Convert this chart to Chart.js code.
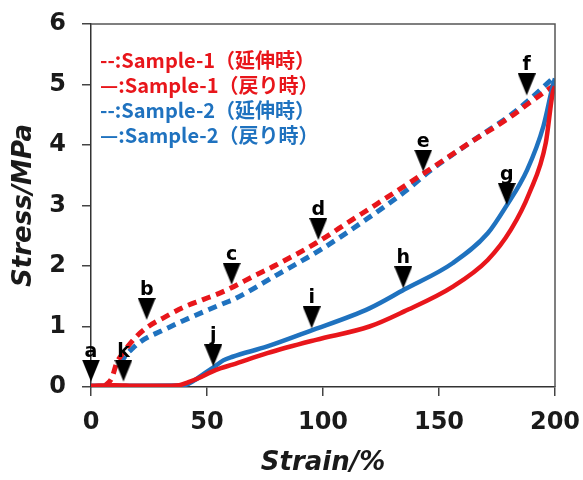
<!DOCTYPE html>
<html><head><meta charset="utf-8">
<script src="https://cdn.jsdelivr.net/npm/chart.js@4/dist/chart.umd.min.js"></script>
<style>html,body{margin:0;padding:0;background:#fff}</style>
</head><body>
<canvas id="c" width="583" height="480"></canvas>
<script>
// Sample-1 stretching (dashed red)
const ext1X = [6, 9, 11, 13, 19, 24, 32, 40, 48, 56, 61, 70, 80, 97, 112, 123, 143, 163, 181, 189, 199];
const ext1Y = [0.02, 0.15, 0.39, 0.52, 0.81, 0.98, 1.16, 1.32, 1.44, 1.56, 1.65, 1.83, 2.02, 2.38, 2.75, 3.02, 3.52, 4.03, 4.47, 4.70, 4.97];
// Sample-1 return (solid red)
const ret1X = [0, 10, 20, 30, 38, 42, 46, 52, 56, 61, 76, 97, 120, 135, 156, 171, 181, 189, 196, 199, 200];
const ret1Y = [0.02, 0.03, 0.02, 0.02, 0.03, 0.08, 0.14, 0.25, 0.31, 0.37, 0.56, 0.78, 1.00, 1.25, 1.66, 2.10, 2.60, 3.21, 4.03, 4.86, 4.97];
// Sample-2 stretching (dashed blue)
const ext2X = [13, 14, 18, 23, 30, 40, 49, 59, 61, 80, 99, 119, 137, 146, 163, 181, 189, 199];
const ext2Y = [0.38, 0.47, 0.64, 0.79, 0.92, 1.10, 1.25, 1.41, 1.44, 1.85, 2.27, 2.78, 3.28, 3.57, 4.03, 4.50, 4.75, 5.10];
// Sample-2 return (solid blue)
const ret2X = [0, 40, 45, 48, 53, 57, 61, 76, 94, 120, 135, 156, 171, 179, 188, 195, 199, 200];
const ret2Y = [0.02, 0.03, 0.12, 0.20, 0.33, 0.44, 0.50, 0.67, 0.92, 1.30, 1.61, 2.05, 2.54, 2.99, 3.59, 4.31, 4.97, 5.10];
// Marker arrows (tip positions)
const markLabels = ['a', 'k', 'b', 'c', 'j', 'd', 'i', 'h', 'e', 'g', 'f'];
const markX = [0, 14, 24, 60.6, 52.7, 98, 95.1, 134.6, 143.2, 179.2, 187.8];
const markY = [0.09, 0.09, 1.11, 1.69, 0.34, 2.43, 0.97, 1.63, 3.56, 3.01, 4.82];
// Axes
const xTicks = [0, 50, 100, 150, 200];
const yTicks = [0, 1, 2, 3, 4, 5, 6];
const legendLines = ['--:Sample-1（延伸時）', '—:Sample-1（戻り時）', '--:Sample-2（延伸時）', '—:Sample-2（戻り時）'];

const RED = '#e8161b', BLUE = '#1f72bf';
const legendColors = [RED, RED, BLUE, BLUE];

const pts = (xs, ys) => xs.map((x, i) => ({x, y: ys[i]}));

// down-pointing triangle, tip at image centre
const tri = document.createElement('canvas');
tri.width = 18; tri.height = 44;
(() => { const g = tri.getContext('2d'); g.fillStyle = '#000'; g.beginPath(); g.moveTo(0, 0); g.lineTo(18, 0); g.lineTo(9, 22); g.closePath(); g.fill(); })();

const decor = {
  id: 'decor',
  afterDatasetsDraw(chart) {
    const ctx = chart.ctx, a = chart.chartArea;
    ctx.save();
    // top & right frame
    ctx.strokeStyle = '#555'; ctx.lineWidth = 1.5;
    ctx.beginPath(); ctx.moveTo(a.left, a.top); ctx.lineTo(a.right, a.top); ctx.lineTo(a.right, a.bottom); ctx.stroke();
    // marker letters
    const meta = chart.getDatasetMeta(0);
    ctx.fillStyle = '#000'; ctx.font = 'bold 19px "DejaVu Sans"';
    ctx.textAlign = 'center'; ctx.textBaseline = 'alphabetic';
    meta.data.forEach((el, i) => { ctx.fillText(markLabels[i], el.x, el.y - 25); });
    // legend text
    ctx.font = 'bold 20px "Noto Sans CJK JP"'; ctx.textAlign = 'left'; ctx.textBaseline = 'middle';
    legendLines.forEach((t, i) => { ctx.fillStyle = legendColors[i]; ctx.fillText(t, 100, 60 + i * 25); });
    ctx.restore();
  }
};

new Chart(document.getElementById('c'), {
  type: 'line',
  data: {
    datasets: [
      { type: 'scatter', data: pts(markX, markY), pointStyle: tri, pointRadius: 9, pointHoverRadius: 9, showLine: false, clip: false, backgroundColor: '#000', borderColor: '#000' },
      { data: pts(ret1X, ret1Y), borderColor: RED, borderWidth: 4.5, pointRadius: 0, cubicInterpolationMode: 'monotone', fill: false },
      { data: pts(ret2X, ret2Y), borderColor: BLUE, borderWidth: 4.5, pointRadius: 0, cubicInterpolationMode: 'monotone', fill: false },
      { data: pts(ext1X, ext1Y), borderColor: RED, borderWidth: 5, borderDash: [9, 6], pointRadius: 0, cubicInterpolationMode: 'monotone', fill: false },
      { data: pts(ext2X, ext2Y), borderColor: BLUE, borderWidth: 5, borderDash: [9, 6], pointRadius: 0, cubicInterpolationMode: 'monotone', fill: false }
    ]
  },
  options: {
    responsive: false, animation: false, devicePixelRatio: 1,
    layout: { padding: { left: 0, top: 24, right: 28, bottom: 0 } },
    plugins: { legend: { display: false }, tooltip: { enabled: false } },
    scales: {
      x: {
        type: 'linear', min: 0, max: 200,
        afterBuildTicks: s => { s.ticks = xTicks.map(v => ({value: v})); },
        afterFit: s => { s.height = 93; s.paddingLeft = 0; s.paddingRight = 0; },
        grid: { drawOnChartArea: false, drawTicks: true, tickLength: 9, color: '#444', lineWidth: 1.5 },
        border: { color: '#333', width: 1.5 },
        ticks: { color: '#1a1a1a', font: { family: 'DejaVu Sans', size: 24, weight: 'bold' }, padding: 12, maxRotation: 0 },
        title: { display: true, text: 'Strain/%', color: '#1a1a1a', font: { family: 'DejaVu Sans', size: 26, weight: 'bold', style: 'italic' }, padding: { top: 0, bottom: 1 } }
      },
      y: {
        type: 'linear', min: 0, max: 6,
        afterBuildTicks: s => { s.ticks = yTicks.map(v => ({value: v})); },
        afterFit: s => { s.width = 91; s.paddingTop = 0; s.paddingBottom = 0; },
        grid: { drawOnChartArea: false, drawTicks: true, tickLength: 9, color: '#444', lineWidth: 1.5 },
        border: { color: '#333', width: 1.5 },
        ticks: { color: '#1a1a1a', font: { family: 'DejaVu Sans', size: 24, weight: 'bold' }, padding: 16 },
        title: { display: true, text: 'Stress/MPa', color: '#1a1a1a', font: { family: 'DejaVu Sans', size: 26, weight: 'bold', style: 'italic' }, padding: { top: 9, bottom: 0 } }
      }
    }
  },
  plugins: [decor]
});
</script>
</body></html>
